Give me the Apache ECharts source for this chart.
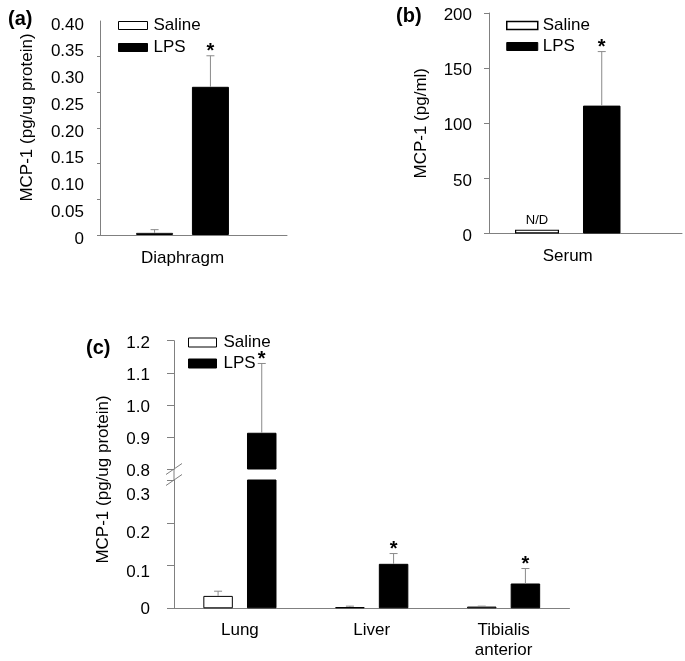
<!DOCTYPE html>
<html>
<head>
<meta charset="utf-8">
<script src="https://cdn.jsdelivr.net/npm/echarts@6/dist/echarts.min.js"></script>
<style>
html,body{margin:0;padding:0;background:#fff;}
#chart{width:685px;height:661px;}
</style>
</head>
<body>
<div id="chart"></div>
<script>
// ---------- data ----------
const legendNames = ['Saline', 'LPS'];
const panelTitles = ['(a)', '(b)', '(c)'];
const yNameA = 'MCP-1 (pg/ug protein)';
const yNameB = 'MCP-1 (pg/ml)';
const yNameC = 'MCP-1 (pg/ug protein)';

// panel (a)
const aCategories = ['Diaphragm'];
const aSaline = [0.004];
const aSalineSE = [0.006];
const aLPS = [0.277];
const aLPSSE = [0.058];
const aLPSStar = [true];
const aTickLabels = ['0', '0.05', '0.10', '0.15', '0.20', '0.25', '0.30', '0.35', '0.40'];

// panel (b)
const bCategories = ['Serum'];
const bSaline = [3.5];
const bSalineNote = ['N/D'];
const bLPS = [116];
const bLPSSE = [49];
const bLPSStar = [true];
const bTickLabels = ['0', '50', '100', '150', '200'];

// panel (c)
const cCategories = ['Lung', 'Liver', 'Tibialis\nanterior'];
const cSaline = [0.029, 0.003, 0.004];
const cSalineSE = [0.011, 0.002, 0.001];
const cLPS = [0.913, 0.104, 0.058];
const cLPSSE = [0.216, 0.024, 0.035];
const cLPSStar = [true, true, true];
const cBreak = [0.3, 0.8];
const cLowerTickLabels = ['0', '0.1', '0.2', '0.3'];
const cUpperTickLabels = ['0.8', '0.9', '1.0', '1.1', '1.2'];

// ---------- style ----------
const FONT = '"Liberation Sans", Arial, Helvetica, sans-serif';
const AX = '#808080';
const ERR = '#8a8a8a';
const TXT = '#000';
const FS = 17;

const aStep = 0.05, aMax = 0.4;
const bStep = 50, bMax = 200;
const cStep = 0.1, cMax = 1.2;

const A = {left: 100, top: 21, height: 214, mainW: 165, fullW: 187, salW: 37, bw: 37, gap: 0.51};
const B = {left: 489, top: 13, height: 220.5, mainW: 157.5, fullW: 193, salW: 44, bw: 37.5, gap: 0.545};
const C = {left: 174, upTop: 340.7, upH: 128.3, loTop: 480, loH: 128.3, width: 395.5, salW: 29.5, bw: 29.5, gap: 0.48};
const BREAK_GAP = C.loTop - (C.upTop + C.upH);

// centre offsets of the two bars, following ECharts' own bar layout rule
function barOffsets(P) {
  const sum = P.salW * (1 + P.gap) + P.bw;
  const sal = -sum / 2 + P.salW / 2;
  const lps = -sum / 2 + P.salW * (1 + P.gap) + P.bw / 2;
  return [sal, lps];
}

function errSeries(name, xi, yi, vals, ses, stars, offset, keep) {
  const data = [];
  vals.forEach((v, i) => {
    if (ses[i] == null) return;
    const top = v + ses[i];
    if (!keep(v, top)) return;
    data.push([i, v, top, stars && stars[i] ? 1 : 0]);
  });
  return {
    type: 'custom', name, xAxisIndex: xi, yAxisIndex: yi, silent: true, clip: false, z: 5,
    encode: {x: 0, y: [1, 2]},
    data,
    renderItem(params, api) {
      const b = api.coord([api.value(0), api.value(1)]);
      const t = api.coord([api.value(0), api.value(2)]);
      const cx = b[0] + offset;
      const cap = 4;
      const st = {stroke: ERR, lineWidth: 1};
      const children = [
        {type: 'line', shape: {x1: cx, y1: b[1], x2: cx, y2: t[1]}, style: st},
        {type: 'line', shape: {x1: cx - cap, y1: t[1], x2: cx + cap, y2: t[1]}, style: st}
      ];
      if (api.value(3)) {
        children.push({type: 'text', style: {text: '*', x: cx, y: t[1] - 4, align: 'center', verticalAlign: 'middle',
          fontSize: 20, fontFamily: FONT, fontWeight: 'bold', fill: TXT}});
      }
      return {type: 'group', children};
    }
  };
}

function barPair(xi, yi, sal, lps, P, salBorder) {
  const g = (P.gap * 100) + '%';
  return [
    {type: 'bar', name: 'Saline', xAxisIndex: xi, yAxisIndex: yi, data: sal, barWidth: P.salW, barGap: g,
      itemStyle: {color: '#fff', borderColor: '#000', borderWidth: salBorder}, silent: true},
    {type: 'bar', name: 'LPS', xAxisIndex: xi, yAxisIndex: yi, data: lps, barWidth: P.bw, barGap: g,
      itemStyle: {color: '#000', borderColor: '#000', borderWidth: 1}, silent: true}
  ];
}

const catLabel = {fontSize: FS, color: TXT, fontFamily: FONT, lineHeight: 20};
const valLabel = {fontSize: FS, color: TXT, fontFamily: FONT};
const nameStyle = {fontSize: FS, color: TXT, fontFamily: FONT, lineHeight: 17};

function lineOnlyX(gi) {
  return {type: 'category', gridIndex: gi, data: [''], axisLine: {lineStyle: {color: AX}}, axisTick: {show: false}, axisLabel: {show: false}};
}
function hiddenY(gi) {
  return {type: 'value', gridIndex: gi, show: false, min: 0, max: 1};
}
// label nudges (visual only): shift a label down by pad/2 px
function richShift(pad) {
  return {t: {padding: [pad, 0, 0, 0], fontSize: FS, fontFamily: FONT, color: TXT}};
}

const lowerShift = [3, 13, 21, 30];
const lowerRich = {};
lowerShift.forEach((p, i) => { lowerRich['s' + i] = {padding: [p, 0, 0, 0], fontSize: FS, fontFamily: FONT, color: TXT}; });

function legendFor(left, top, w, h, gap, pad, salBorder) {
  return {orient: 'vertical', left, top, itemWidth: w, itemHeight: h, itemGap: gap, selectedMode: false,
    textStyle: {fontSize: FS, color: TXT, fontFamily: FONT, lineHeight: 17, padding: [0, 0, 0, pad]},
    data: [{name: legendNames[0], icon: 'rect', itemStyle: {color: '#fff', borderColor: '#000', borderWidth: salBorder}},
           {name: legendNames[1], icon: 'rect', itemStyle: {color: '#000', borderColor: '#000', borderWidth: 1}}]};
}

const titleStyle = {fontSize: 20, fontWeight: 'bold', color: TXT, fontFamily: FONT};

const option = {
  backgroundColor: '#fff',
  animation: false,
  textStyle: {fontFamily: FONT},
  title: [
    {text: panelTitles[0], left: 3, top: 4, textStyle: titleStyle},
    {text: panelTitles[1], left: 391, top: 1, textStyle: titleStyle},
    {text: panelTitles[2], left: 81, top: 333, textStyle: titleStyle}
  ],
  legend: [
    legendFor(113, 12, 29, 8, 5, 1, 1),
    legendFor(501, 12, 31, 8, 4, 0, 1.5),
    legendFor(183, 329, 28, 9, 4, 2, 1)
  ],
  grid: [
    {left: A.left, top: A.top, width: A.mainW, height: A.height, outerBoundsMode: 'none', containLabel: false},
    {left: A.left, top: A.top, width: A.fullW, height: A.height, outerBoundsMode: 'none', containLabel: false},
    {left: B.left, top: B.top, width: B.mainW, height: B.height, outerBoundsMode: 'none', containLabel: false},
    {left: B.left, top: B.top, width: B.fullW, height: B.height, outerBoundsMode: 'none', containLabel: false},
    {left: C.left, top: C.upTop, width: C.width, height: C.upH, outerBoundsMode: 'none', containLabel: false},
    {left: C.left, top: C.loTop, width: C.width, height: C.loH, outerBoundsMode: 'none', containLabel: false},
    {left: C.left, top: C.upTop, width: C.width, height: C.loTop + C.loH - C.upTop, outerBoundsMode: 'none', containLabel: false}
  ],
  xAxis: [
    {type: 'category', gridIndex: 0, data: aCategories, axisLine: {show: false}, axisTick: {show: false},
      axisLabel: Object.assign({margin: 13}, catLabel)},
    lineOnlyX(1),
    {type: 'category', gridIndex: 2, data: bCategories, axisLine: {show: false}, axisTick: {show: false},
      axisLabel: Object.assign({margin: 13}, catLabel)},
    lineOnlyX(3),
    {type: 'category', gridIndex: 4, data: cCategories, show: false},
    {type: 'category', gridIndex: 5, data: cCategories, axisLine: {lineStyle: {color: AX}}, axisTick: {show: false},
      axisLabel: Object.assign({margin: 12}, catLabel)},
    {type: 'category', gridIndex: 6, data: [''], show: false}
  ],
  yAxis: [
    {type: 'value', gridIndex: 0, min: 0, max: aMax, interval: aStep,
      name: yNameA, nameLocation: 'middle', nameGap: 64,
      nameTextStyle: Object.assign({padding: [0, 0, 0, 21]}, nameStyle),
      axisLine: {show: true, lineStyle: {color: AX}},
      axisTick: {show: true, length: 3, lineStyle: {color: AX},
        customValues: Array.from({length: 7}, (_, i) => aMax * i / 6)},
      splitLine: {show: false},
      axisLabel: Object.assign({margin: 16, rich: richShift(8),
        formatter: v => '{t|' + aTickLabels[Math.round(v / aStep)] + '}'}, valLabel)},
    hiddenY(1),
    {type: 'value', gridIndex: 2, min: 0, max: bMax, interval: bStep,
      name: yNameB, nameLocation: 'middle', nameGap: 59,
      nameTextStyle: nameStyle,
      axisLine: {show: true, lineStyle: {color: AX}},
      axisTick: {show: true, length: 5, lineStyle: {color: AX}},
      splitLine: {show: false},
      axisLabel: Object.assign({margin: 17, rich: richShift(5),
        formatter: v => '{t|' + bTickLabels[Math.round(v / bStep)] + '}'}, valLabel)},
    hiddenY(3),
    {type: 'value', gridIndex: 4, min: cBreak[1], max: cMax, interval: cStep,
      axisLine: {show: true, lineStyle: {color: AX}},
      axisTick: {show: true, length: 7, lineStyle: {color: AX}},
      splitLine: {show: false},
      axisLabel: Object.assign({margin: 24, rich: richShift(5),
        formatter: v => '{t|' + cUpperTickLabels[Math.round((v - cBreak[1]) / cStep)] + '}'}, valLabel)},
    {type: 'value', gridIndex: 5, min: 0, max: cBreak[0], interval: cStep,
      axisLine: {show: true, lineStyle: {color: AX}},
      axisTick: {show: true, length: 7, lineStyle: {color: AX}},
      splitLine: {show: false},
      axisLabel: Object.assign({margin: 24, rich: lowerRich,
        formatter: v => { const i = Math.round(v / cStep); return '{s' + i + '|' + cLowerTickLabels[i] + '}'; }}, valLabel)},
    {type: 'value', gridIndex: 6, min: 0, max: 1,
      name: yNameC, nameLocation: 'middle', nameGap: 62,
      nameTextStyle: Object.assign({padding: [0, 10, 0, 0]}, nameStyle),
      axisLine: {show: false}, axisTick: {show: false}, axisLabel: {show: false}, splitLine: {show: false}}
  ],
  series: []
};

const s = option.series;
// (a)
const aOff = barOffsets(A);
s.push(...barPair(0, 0, aSaline, aLPS, A, 1));
s.push(errSeries('Saline SE a', 0, 0, aSaline, aSalineSE, null, aOff[0], () => true));
s.push(errSeries('LPS SE a', 0, 0, aLPS, aLPSSE, aLPSStar, aOff[1], () => true));
// (b)
const bOff = barOffsets(B);
const bSalineData = bSaline.map((v, i) => ({
  value: v,
  label: {show: !!bSalineNote[i], position: 'top', distance: 3, formatter: bSalineNote[i] || '',
    fontSize: 13, color: TXT, fontFamily: FONT}
}));
s.push(...barPair(2, 2, bSalineData, bLPS, B, 1.2));
s.push(errSeries('LPS SE b', 2, 2, bLPS, bLPSSE, bLPSStar, bOff[1], () => true));
// (c) upper
const cOff = barOffsets(C);
s.push(...barPair(4, 4, cSaline.map(v => v >= cBreak[1] ? v : '-'), cLPS.map(v => v >= cBreak[1] ? v : '-'), C, 1));
s.push(errSeries('LPS SE c up', 4, 4, cLPS, cLPSSE, cLPSStar, cOff[1], (v, t) => v >= cBreak[1]));
// (c) lower
s.push(...barPair(5, 5, cSaline, cLPS, C, 1));
s.push(errSeries('Saline SE c', 5, 5, cSaline, cSalineSE, null, cOff[0], (v, t) => t <= cBreak[0]));
s.push(errSeries('LPS SE c lo', 5, 5, cLPS, cLPSSE, cLPSStar, cOff[1], (v, t) => t <= cBreak[0]));
// axis break marks
s.push({
  type: 'custom', name: 'axis break', xAxisIndex: 5, yAxisIndex: 5, silent: true, clip: false, z: 6,
  data: [[0, cBreak[0]]],
  renderItem(params, api) {
    const x = params.coordSys.x;
    const y = api.coord([0, api.value(1)])[1];
    const st = {stroke: AX, lineWidth: 1};
    const hw = 8, hh = 5.5;
    return {type: 'group', children: [
      {type: 'line', shape: {x1: x, y1: y - BREAK_GAP, x2: x, y2: y}, style: st},
      {type: 'line', shape: {x1: x - hw, y1: y - BREAK_GAP + hh, x2: x + hw, y2: y - BREAK_GAP - hh}, style: st},
      {type: 'line', shape: {x1: x - hw, y1: y + hh, x2: x + hw, y2: y - hh}, style: st}
    ]};
  }
});

const chart = echarts.init(document.getElementById('chart'), null, {renderer: 'canvas'});
chart.setOption(option);
</script>
</body>
</html>
